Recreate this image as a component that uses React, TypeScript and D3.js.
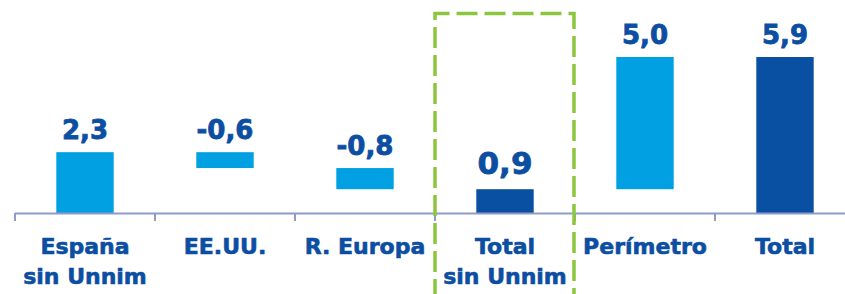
import React from "react";
import * as d3 from "d3";

const categories = ["España|sin Unnim", "EE.UU.", "R. Europa", "Total|sin Unnim", "Perímetro", "Total"];
const values = [2.3, -0.6, -0.8, 0.9, 5.0, 5.9];
const isTotal = [false, false, false, true, false, true];
const labels = ["2,3", "-0,6", "-0,8", "0,9", "5,0", "5,9"];
const highlighted = ["Total|sin Unnim"];

const W = 845;
const H = 294;
const LIGHT = "#00A0E3";
const DARK = "#0A50A2";
const TEXT = "#0B4EA2";
const AXIS = "#8E9BC9";
const GREEN = "#8CC63F";

export default function App() {
  const x = d3.scaleBand<string>().domain(categories).range([15, 855]).padding(0);
  const y = d3.scaleLinear().domain([0, 5.9]).range([213, 57]);
  const bw = x.bandwidth() * 0.41;

  let running = 0;
  const bars = categories.map((c, i) => {
    let lo: number, hi: number;
    if (isTotal[i]) {
      lo = 0;
      hi = values[i];
      running = values[i];
    } else {
      const start = running;
      const end = running + values[i];
      lo = Math.min(start, end);
      hi = Math.max(start, end);
      running = end;
    }
    return { c, i, lo, hi };
  });

  const ticks = [...categories.map((c) => x(c)!), 855];
  const hl = highlighted[0];
  const hx0 = x(hl)!;
  const hx1 = hx0 + x.bandwidth() - 1;

  return (
    <svg width={W} height={H} style={{ position: "absolute", left: 0, top: 0 }} fontFamily="DejaVu Sans" fontWeight="bold">
      {bars.map((b) => (
        <rect
          key={b.c}
          x={x(b.c)! + (x.bandwidth() - bw) / 2}
          y={y(b.hi)}
          width={bw}
          height={y(b.lo) - y(b.hi)}
          fill={isTotal[b.i] ? DARK : LIGHT}
        />
      ))}
      {bars.map((b) => {
        const big = highlighted.includes(b.c);
        return (
          <text
            key={"l" + b.c}
            x={x(b.c)! + x.bandwidth() / 2}
            y={y(b.hi) - (big ? 15 : 13)}
            textAnchor="middle"
            fontSize={big ? 31 : 26}
            fill={TEXT}
            stroke={TEXT}
            strokeWidth={0.8}
          >
            {labels[b.i]}
          </text>
        );
      })}
      <line x1={15} x2={W} y1={213.5} y2={213.5} stroke={AXIS} strokeWidth={2} />
      {ticks.map((t, i) => (
        <line key={"t" + i} x1={t} x2={t} y1={213} y2={221} stroke={AXIS} strokeWidth={2} />
      ))}
      {categories.map((c) => {
        const lines = c.split("|");
        return (
          <text
            key={"c" + c}
            x={x(c)! + x.bandwidth() / 2}
            textAnchor="middle"
            fontSize={22}
            fill={TEXT}
            stroke={TEXT}
            strokeWidth={0.6}
          >
            {lines.map((ln, j) => (
              <tspan key={j} x={x(c)! + x.bandwidth() / 2} y={254 + j * 30}>
                {ln}
              </tspan>
            ))}
          </text>
        );
      })}
      <path
        d={`M${hx0},${H + 10} L${hx0},13.5 L${hx1},13.5 L${hx1},${H + 10}`}
        fill="none"
        stroke={GREEN}
        strokeWidth={3.5}
        strokeDasharray="21 7"
        strokeDashoffset={-4}
      />
    </svg>
  );
}
